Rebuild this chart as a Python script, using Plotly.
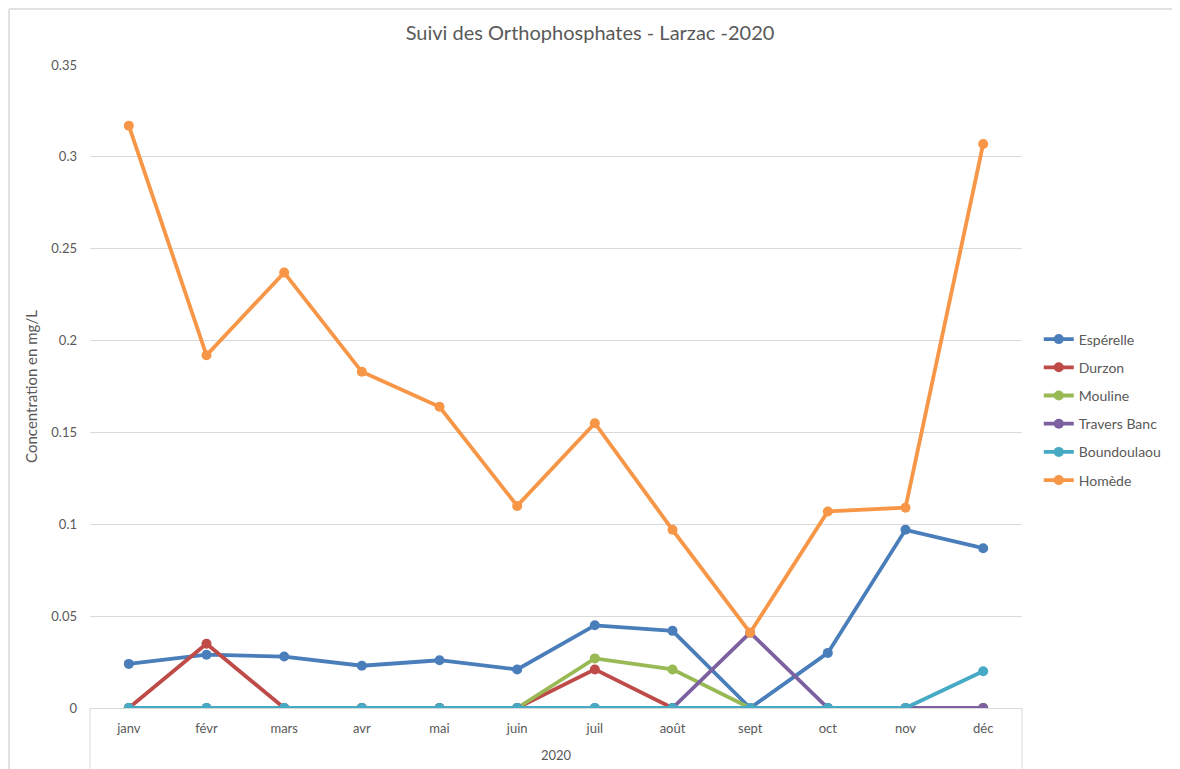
import plotly.graph_objects as go

months = ["janv", "févr", "mars", "avr", "mai", "juin", "juil", "août", "sept", "oct", "nov", "déc"]
y_ticks = [0, 0.05, 0.1, 0.15, 0.2, 0.25, 0.3, 0.35]
y_tick_labels = ["0", "0.05", "0.1", "0.15", "0.2", "0.25", "0.3", "0.35"]

esperelle = [0.024, 0.029, 0.028, 0.023, 0.026, 0.021, 0.045, 0.042, 0.0, 0.030, 0.097, 0.087]
durzon = [0.0, 0.035, 0.0, 0.0, 0.0, 0.0, 0.021, 0.0, 0.0, 0.0, 0.0, 0.0]
mouline = [0.0, 0.0, 0.0, 0.0, 0.0, 0.0, 0.027, 0.021, 0.0, 0.0, 0.0, 0.0]
travers_banc = [0.0, 0.0, 0.0, 0.0, 0.0, 0.0, 0.0, 0.0, 0.041, 0.0, 0.0, 0.0]
boundoulaou = [0.0, 0.0, 0.0, 0.0, 0.0, 0.0, 0.0, 0.0, 0.0, 0.0, 0.0, 0.020]
homede = [0.317, 0.192, 0.237, 0.183, 0.164, 0.110, 0.155, 0.097, 0.041, 0.107, 0.109, 0.307]

series = [
    ("Espérelle", esperelle, "#4A7EBB"),
    ("Durzon", durzon, "#BE4B48"),
    ("Mouline", mouline, "#98B954"),
    ("Travers Banc", travers_banc, "#7D60A0"),
    ("Boundoulaou", boundoulaou, "#46AAC5"),
    ("Homède", homede, "#F79646"),
]

FONT = "Lato, 'Noto Sans', sans-serif"
GRAY = "#595959"
BORDER = "#D9D9D9"

# page body has an 8px offset; figure sized so the plot area lands at x 90..1022, y 65..708
W, H = 1172, 761
L, T, R, B = 82, 57, 158, 61
PW, PH = W - L - R, H - T - B


def px(xv):
    return (xv - 90) / PW


def py(yv):
    return (708 - yv) / PH


fig = go.Figure()
for i, (name, vals, color) in enumerate(series):
    fig.add_trace(go.Scatter(
        x=months, y=vals, name=name, mode="lines+markers",
        line=dict(color=color, width=3.8),
        marker=dict(color=color, size=10),
        legendgroup="g%d" % i,
    ))

frame = dict(color=BORDER, width=1.5)
axisline = dict(color=BORDER, width=1)

fig.update_layout(
    width=W, height=H,
    margin=dict(l=L, r=R, t=T, b=B),
    paper_bgcolor="white", plot_bgcolor="white",
    font=dict(family=FONT, color=GRAY, size=13),
    title=dict(text="Suivi des Orthophosphates - Larzac -2020",
               x=582 / W, xanchor="center", y=1 - 25 / H, yanchor="middle",
               font=dict(size=20, color=GRAY, family=FONT)),
    showlegend=True,
    legend=dict(x=1.018, xanchor="left", y=py(410), yanchor="middle",
                font=dict(size=14, color=GRAY, family=FONT),
                tracegroupgap=7, itemwidth=30, bgcolor="rgba(0,0,0,0)"),
    xaxis=dict(type="category", range=[-0.5, 11.5], showgrid=False,
               showline=True, linecolor=BORDER, linewidth=1,
               ticks="", tickfont=dict(size=13, color=GRAY), ticklabelstandoff=8,
               fixedrange=True),
    yaxis=dict(range=[0, 0.35], tickvals=y_ticks, ticktext=y_tick_labels,
               showgrid=True, gridcolor=BORDER, gridwidth=1,
               zeroline=False, showline=False, ticks="",
               tickfont=dict(size=13, color=GRAY), ticklabelstandoff=12,
               title=dict(text="Concentration en mg/L", font=dict(size=15, color=GRAY), standoff=10)),
    shapes=[
        dict(type="line", xref="paper", yref="paper", x0=px(9), x1=px(9),
             y0=py(9), y1=py(770), line=frame),
        dict(type="line", xref="paper", yref="paper", x0=px(9), x1=px(1177),
             y0=py(9), y1=py(9), line=frame),
        dict(type="line", xref="paper", yref="paper", x0=px(1177), x1=px(1177),
             y0=py(9), y1=py(770), line=frame),
        dict(type="line", xref="paper", yref="paper", x0=0, x1=0,
             y0=0, y1=py(770), line=axisline),
        dict(type="line", xref="paper", yref="paper", x0=1, x1=1,
             y0=0, y1=py(770), line=axisline),
    ],
    annotations=[
        dict(text="2020", xref="paper", yref="paper", x=0.5, y=py(755),
             xanchor="center", yanchor="middle", showarrow=False,
             font=dict(size=13, color=GRAY, family=FONT)),
    ],
)

fig.write_html("out.html")
